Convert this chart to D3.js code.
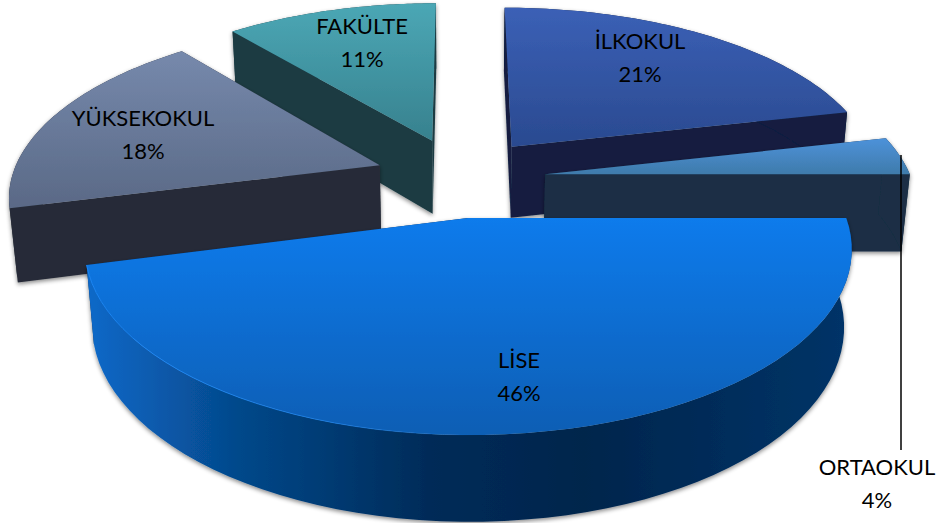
<!DOCTYPE html>
<html>
<head>
<meta charset="utf-8">
<script src="https://d3js.org/d3.v7.min.js"></script>
<style>
  html, body { margin: 0; padding: 0; background: #fff; }
  text { font-family: Lato, "Open Sans", sans-serif; font-size: 22px; fill: #000; text-anchor: middle; }
</style>
</head>
<body>
<svg id="chart" width="940" height="523"></svg>
<script>
// pie data, clockwise from the top
const categories = ['İLKOKUL', 'ORTAOKUL', 'LİSE', 'YÜKSEKOKUL', 'FAKÜLTE'];
const values = [21.45, 3.55, 46, 18, 11];

// colours per slice: top face from/to, wall
const topFrom = ['#3b60b6', '#4d92da', '#0d7bec', '#7689ac', '#4ba7b5'];
const topTo = ['#2a4a90', '#3f7bab', '#0a5eb4', '#5a6986', '#37818e'];
const wallColor = ['#121f40', '#1a2f44', '#032a55', '#272c38', '#1b3b43'];
const liseWallStops = [[0, '#0b69c9'], [0.2, '#05488a'], [0.45, '#032b58'], [0.65, '#03254c'], [1, '#053468']];

// label centres
const labelX = [640, 877, 519, 143, 362];
const labelY = [58, 484, 377, 135, 43];

// camera, fitted by eye against the picture
const vx = 460, cy = 176.5;
const radius = 368, radiusY = 170, depth = 74;
const persp = 0.16, perspZ = 0.018;

// small per slice corrections so each piece lands where it does in the picture
const explodeBy = [0.231, 0.231, 0.231, 0.235, 0.231];
const radiusBy = [1, 0.995, 0.99, 1, 1];
const depthBy = [1, 1.07, 1.03, 1, 1.03];
const nudgeX = [0, 1, -3, 1, 0];
const nudgeY = [0, 2, 1, 1, 0];

const project = (X, Y, z) => {
  const w = 1 + persp * Y + perspZ * z;
  return [vx + radius * X / w, cy + (-radiusY * Y + depth * z) / w];
};

const svg = d3.select('#chart');
const defs = svg.append('defs');

const shadow = defs.append('filter').attr('id', 'shadow')
  .attr('x', '-10%').attr('y', '-10%').attr('width', '120%').attr('height', '125%');
shadow.append('feDropShadow')
  .attr('dx', 0).attr('dy', 2).attr('stdDeviation', 2)
  .attr('flood-color', '#000').attr('flood-opacity', 0.45);

const arcs = d3.pie().sort(null).value(d => d)(values);
const line = d3.line();

// back to front
const drawOrder = [4, 0, 3, 1, 2];

drawOrder.forEach(i => {
  const a = arcs[i];
  const mid = (a.startAngle + a.endAngle) / 2;
  const pt = (theta, r, z) => {
    const p = project(
      Math.sin(theta) * r * radiusBy[i] + Math.sin(mid) * explodeBy[i],
      Math.cos(theta) * r * radiusBy[i] + Math.cos(mid) * explodeBy[i],
      z * depthBy[i]
    );
    return [p[0] + nudgeX[i], p[1] + nudgeY[i]];
  };
  const steps = d3.range(0, 61).map(k => a.startAngle + (a.endAngle - a.startAngle) * k / 60);
  const topArc = steps.map(t => pt(t, 1, 0));
  const bottomArc = steps.map(t => pt(t, 1, 1));
  const apex = pt(0, 0, 0);
  const apexBottom = pt(0, 0, 1);
  const topFace = [apex, ...topArc];

  const g = svg.append('g').attr('filter', 'url(#shadow)');

  // top gradient runs vertically across the face
  const yExtent = d3.extent(topFace, p => p[1]);
  const grad = defs.append('linearGradient').attr('id', 'top' + i)
    .attr('gradientUnits', 'userSpaceOnUse')
    .attr('x1', 0).attr('x2', 0).attr('y1', yExtent[0]).attr('y2', yExtent[1]);
  grad.append('stop').attr('offset', 0).attr('stop-color', topFrom[i]);
  grad.append('stop').attr('offset', 1).attr('stop-color', topTo[i]);

  // straight walls
  [a.startAngle, a.endAngle].forEach(t => {
    g.append('path')
      .attr('d', line([apex, pt(t, 1, 0), pt(t, 1, 1), apexBottom]) + 'Z')
      .attr('fill', wallColor[i]);
  });

  // curved wall
  let wallFill = wallColor[i];
  if (categories[i] === 'LİSE') {
    const xExtent = d3.extent(topArc, p => p[0]);
    const wallGrad = defs.append('linearGradient').attr('id', 'wall' + i)
      .attr('gradientUnits', 'userSpaceOnUse')
      .attr('x1', xExtent[0]).attr('x2', xExtent[1]).attr('y1', 0).attr('y2', 0);
    liseWallStops.forEach(s => wallGrad.append('stop').attr('offset', s[0]).attr('stop-color', s[1]));
    wallFill = 'url(#wall' + i + ')';
  }
  g.append('path')
    .attr('d', line([...topArc, ...bottomArc.slice().reverse()]) + 'Z')
    .attr('fill', wallFill);

  g.append('path')
    .attr('d', line(topFace) + 'Z')
    .attr('fill', 'url(#top' + i + ')');

  // light rim on the front left of the big slice
  if (categories[i] === 'LİSE') {
    const rim = defs.append('linearGradient').attr('id', 'rim')
      .attr('gradientUnits', 'userSpaceOnUse')
      .attr('x1', 85).attr('x2', 480).attr('y1', 0).attr('y2', 0);
    rim.append('stop').attr('offset', 0).attr('stop-color', '#1a86f5');
    rim.append('stop').attr('offset', 0.7).attr('stop-color', '#1a86f5').attr('stop-opacity', 0.6);
    rim.append('stop').attr('offset', 1).attr('stop-color', '#1a86f5').attr('stop-opacity', 0);
    svg.append('path')
      .attr('d', line(topArc))
      .attr('fill', 'none')
      .attr('stroke', 'url(#rim)')
      .attr('stroke-width', 1);
  }
});

// leader line for the small slice
svg.append('line')
  .attr('x1', 901).attr('x2', 901).attr('y1', 155).attr('y2', 450)
  .attr('stroke', '#000').attr('stroke-width', 1.5);

categories.forEach((c, i) => {
  const t = svg.append('text').attr('x', labelX[i]).attr('y', labelY[i]);
  t.append('tspan').attr('x', labelX[i]).attr('dy', -9).text(c);
  t.append('tspan').attr('x', labelX[i]).attr('dy', 33).text(Math.round(values[i]) + '%');
});
</script>
</body>
</html>
